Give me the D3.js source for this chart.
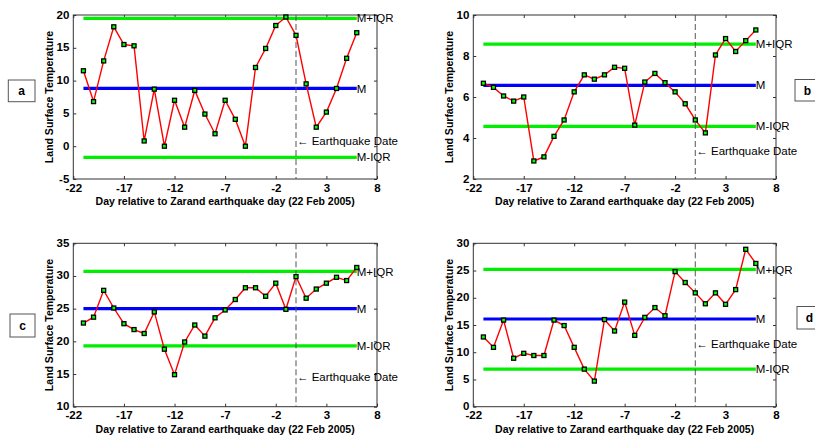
<!DOCTYPE html>
<html><head><meta charset="utf-8">
<script src="https://cdn.jsdelivr.net/npm/d3@7"></script>
<style>
body{margin:0;background:#fff;}
svg{display:block;}
text{font-family:Arial,"Liberation Sans",sans-serif;fill:#000;}
</style></head>
<body>
<svg id="c" width="815" height="437"></svg>
<script>
// ---- data ----
const days = d3.range(-21, 7);
const xTicks = [-22, -17, -12, -7, -2, 3, 8];
const panelLetters = ["a", "b", "c", "d"];
const valuesA = [11.5, 6.8, 13.0, 18.2, 15.5, 15.3, 0.8, 8.7, 0.0, 7.0, 2.9, 8.5, 4.9, 1.9, 7.0, 4.1, 0.0, 12.0, 14.9, 18.4, 19.7, 16.9, 9.5, 2.9, 5.2, 8.8, 13.4, 17.3];
const valuesB = [6.67, 6.47, 6.05, 5.8, 6.0, 2.88, 3.08, 4.08, 4.88, 6.25, 7.08, 6.87, 7.08, 7.45, 7.4, 4.63, 6.73, 7.15, 6.7, 6.25, 5.67, 4.88, 4.25, 8.05, 8.85, 8.22, 8.75, 9.27];
const valuesC = [22.8, 23.7, 27.8, 25.1, 22.7, 21.8, 21.2, 24.5, 18.8, 14.9, 19.9, 22.5, 20.8, 23.6, 24.8, 26.4, 28.2, 28.2, 26.9, 28.9, 24.9, 29.9, 26.6, 28.0, 28.9, 29.8, 29.3, 31.3];
const valuesD = [12.8, 10.9, 15.9, 8.9, 9.8, 9.4, 9.4, 15.9, 14.9, 10.9, 6.9, 4.7, 16.0, 13.9, 19.2, 13.1, 16.4, 18.2, 16.7, 24.8, 22.8, 20.9, 18.9, 20.9, 18.8, 21.5, 28.9, 26.3];
const medians = [8.8, 6.57, 25.0, 16.1];
const upperIQR = [19.5, 8.58, 30.7, 25.2];
const lowerIQR = [-1.7, 4.57, 19.3, 6.9];
const yDomains = [[-5, 20], [2, 10], [10, 35], [0, 30]];
const yTicks = [[-5, 0, 5, 10, 15, 20], [2, 4, 6, 8, 10], [10, 15, 20, 25, 30, 35], [0, 5, 10, 15, 20, 25, 30]];
const quakeDay = 0;
const quakeLabelY = [0.85, 3.38, 14.5, 11.5];
const xLabel = "Day relative to Zarand earthquake day (22 Feb 2005)";
const yLabel = "Land Surface Temperature";
const quakeLabel = "\u2190 Earthquake Date";
const seriesValues = [valuesA, valuesB, valuesC, valuesD];

// ---- layout ----
const boxes = [
  {x0: 73.3, x1: 377, y0: 15, y1: 179, lb: [8.3, 80, 26.7, 21.7]},
  {x0: 473.3, x1: 776, y0: 15, y1: 179, lb: [795, 79.5, 25, 21.5]},
  {x0: 73.3, x1: 377, y0: 243.3, y1: 406.7, lb: [10, 314, 25, 23]},
  {x0: 473.3, x1: 776, y0: 243.3, y1: 406.7, lb: [797, 306.5, 25, 22.5]}
];

const svg = d3.select("#c");

boxes.forEach((b, i) => {
  const x = d3.scaleLinear().domain([-22, 8]).range([b.x0, b.x1]);
  const y = d3.scaleLinear().domain(yDomains[i]).range([b.y1, b.y0]);
  const g = svg.append("g");
  const vals = seriesValues[i];
  const xs = d3.extent(days);

  // frame
  g.append("rect").attr("x", b.x0).attr("y", b.y0).attr("width", b.x1 - b.x0).attr("height", b.y1 - b.y0)
    .attr("fill", "none").attr("stroke", "#333").attr("stroke-width", 1);

  // axes (ticks inward)
  const ax = g.append("g").attr("transform", `translate(0,${b.y1})`)
    .call(d3.axisBottom(x).tickValues(xTicks).tickSize(-3).tickPadding(4.5).tickFormat(d3.format("d")));
  const axTop = g.append("g").attr("transform", `translate(0,${b.y0})`)
    .call(d3.axisTop(x).tickValues(xTicks).tickSize(-3).tickFormat(""));
  const ay = g.append("g").attr("transform", `translate(${b.x0},0)`)
    .call(d3.axisLeft(y).tickValues(yTicks[i]).tickSize(-3).tickPadding(4).tickFormat(d3.format("d")));
  const ayR = g.append("g").attr("transform", `translate(${b.x1},0)`)
    .call(d3.axisRight(y).tickValues(yTicks[i]).tickSize(-3).tickFormat(""));
  [ax, axTop, ay, ayR].forEach(a => {
    a.select(".domain").remove();
    a.selectAll(".tick line").attr("stroke", "#333");
    a.selectAll("text").attr("font-size", 11.5).attr("font-weight", "bold").attr("font-family", "Arial, Liberation Sans, sans-serif").attr("fill", "#000");
  });
  ax.selectAll("text").text(d => d < 0 ? "-" + Math.abs(d) : d);
  ay.selectAll("text").text(d => d < 0 ? "-" + Math.abs(d) : d).attr("dy", "0.26em");

  // axis titles
  g.append("text").attr("x", (b.x0 + b.x1) / 2).attr("y", b.y1 + 26)
    .attr("text-anchor", "middle").attr("font-size", 10.5).attr("font-weight", "bold").text(xLabel);
  g.append("text").attr("transform", `translate(${b.x0 - 20},${(b.y0 + b.y1) / 2}) rotate(-90)`)
    .attr("text-anchor", "middle").attr("font-size", 10.5).attr("font-weight", "bold").text(yLabel);

  // reference lines
  const refs = [[upperIQR[i], "#00ee00", "M+IQR"], [medians[i], "#0000ff", "M"], [lowerIQR[i], "#00ee00", "M-IQR"]];
  refs.forEach(([v, col, lab]) => {
    g.append("line").attr("x1", x(xs[0])).attr("x2", x(xs[1])).attr("y1", y(v)).attr("y2", y(v))
      .attr("stroke", col).attr("stroke-width", 3.2);
    g.append("text").attr("x", x(xs[1])).attr("y", y(v)).attr("dy", "0.36em")
      .attr("font-size", 11.5).text(lab);
  });

  // earthquake dashed line
  g.append("line").attr("x1", x(quakeDay)).attr("x2", x(quakeDay)).attr("y1", b.y0).attr("y2", b.y1)
    .attr("stroke", "#555").attr("stroke-width", 1).attr("stroke-dasharray", "6,3");
  g.append("text").attr("x", x(quakeDay) + 1).attr("y", y(quakeLabelY[i])).attr("dy", "0.36em")
    .attr("font-size", 11.5).text(quakeLabel);

  // series
  const line = d3.line().x((d, k) => x(days[k])).y(d => y(d));
  g.append("path").datum(vals).attr("d", line).attr("fill", "none").attr("stroke", "#ff0000").attr("stroke-width", 1.4);
  g.selectAll("rect.m").data(vals).join("rect").attr("class", "m")
    .attr("x", (d, k) => x(days[k]) - 2).attr("y", d => y(d) - 2).attr("width", 4).attr("height", 4)
    .attr("fill", "#00ff00").attr("stroke", "#000").attr("stroke-width", 1.3);

  // panel letter box
  const [lx, ly, lw, lh] = b.lb;
  svg.append("rect").attr("x", lx).attr("y", ly).attr("width", lw).attr("height", lh)
    .attr("fill", "#fff").attr("stroke", "#555").attr("stroke-width", 1);
  svg.append("text").attr("x", lx + lw / 2).attr("y", ly + lh / 2).attr("dy", "0.36em")
    .attr("text-anchor", "middle").attr("font-size", 12).attr("font-weight", "bold").text(panelLetters[i]);
});
</script>
</body></html>
